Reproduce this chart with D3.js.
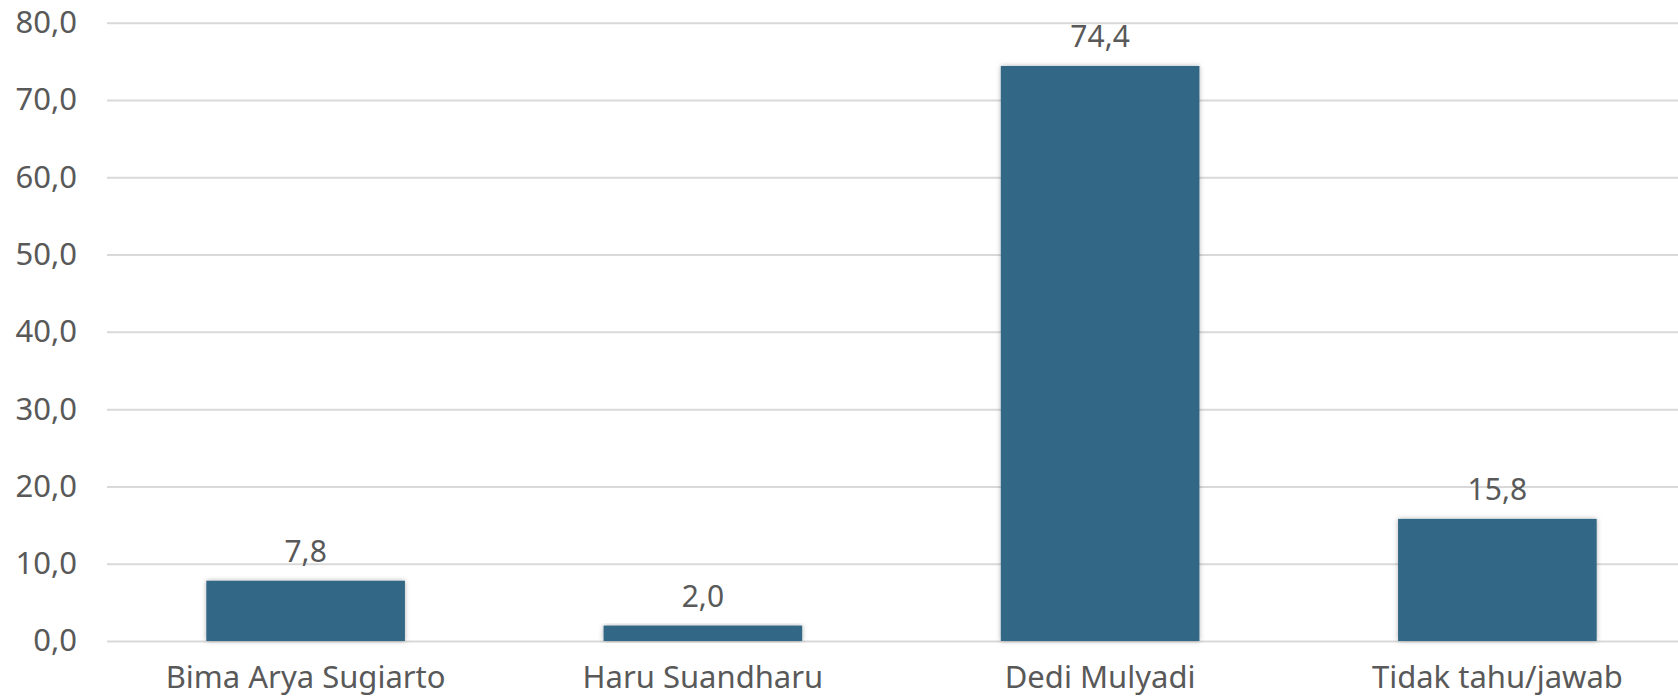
<!DOCTYPE html>
<html lang="id">
<head>
<meta charset="utf-8">
<script src="https://cdn.jsdelivr.net/npm/d3@7"></script>
<style>
    body { margin: 0; background: #fff; }
    svg text {
        font-family: "Century Gothic", "URW Gothic", "Noto Sans", sans-serif;
        fill: #595959;
    }
    .grid line { stroke: #d9d9d9; stroke-width: 2px; }
    .grid path { display: none; }
</style>
</head>
<body>
<script>
// data
const candidates = ["Bima Arya Sugiarto", "Haru Suandharu", "Dedi Mulyadi", "Tidak tahu/jawab"];
const percent = [7.8, 2.0, 74.4, 15.8];
const yTicks = [0, 10, 20, 30, 40, 50, 60, 70, 80];

const w = 1678, h = 700;
const plotLeft = 107, plotRight = 1696, plotTop = 22.7, plotBottom = 641;

const svg = d3.select("body").append("svg")
    .attr("width", w)
    .attr("height", h);

// comma decimal like the original
const fmt = d3.formatLocale({decimal: ",", thousands: ".", grouping: [3], currency: ["", ""]}).format(".1f");

const x = d3.scaleBand()
    .domain(candidates)
    .range([plotLeft, plotRight])
    .paddingInner(0.5)
    .paddingOuter(0.25);

const y = d3.scaleLinear()
    .domain([0, 80])
    .range([plotBottom, plotTop]);

// soft outer shadow on the bars
const defs = svg.append("defs");
const glow = defs.append("filter")
    .attr("id", "glow")
    .attr("x", "-10%").attr("y", "-10%")
    .attr("width", "120%").attr("height", "120%");
glow.append("feDropShadow")
    .attr("dx", 0).attr("dy", 0)
    .attr("stdDeviation", 2.5)
    .attr("flood-color", "#000")
    .attr("flood-opacity", 0.3);

// gridlines + y labels
const yAxis = d3.axisLeft(y)
    .tickValues(yTicks)
    .tickSize(-(w - plotLeft))
    .tickPadding(30)
    .tickFormat(fmt);

svg.append("g")
    .attr("class", "grid")
    .attr("transform", "translate(" + plotLeft + ",0)")
    .call(yAxis)
    .selectAll("text")
    .attr("font-size", "31px");

const data = candidates.map((c, i) => ({name: c, value: percent[i]}));

svg.selectAll("rect.bar")
    .data(data)
    .enter()
    .append("rect")
    .attr("class", "bar")
    .attr("x", d => x(d.name))
    .attr("y", d => y(d.value))
    .attr("width", x.bandwidth())
    .attr("height", d => y(0) - y(d.value))
    .attr("fill", "#336886")
    .attr("filter", "url(#glow)");

// value labels
svg.selectAll("text.val")
    .data(data)
    .enter()
    .append("text")
    .attr("class", "val")
    .attr("x", d => x(d.name) + x.bandwidth() / 2)
    .attr("y", d => y(d.value) - 19)
    .attr("text-anchor", "middle")
    .attr("font-size", "30px")
    .text(d => fmt(d.value));

// category labels
const xAxis = d3.axisBottom(x).tickSize(0).tickPadding(0);
const gx = svg.append("g")
    .attr("transform", "translate(0," + plotBottom + ")")
    .call(xAxis);
gx.select(".domain").remove();
gx.selectAll("text")
    .attr("font-size", "31px")
    .attr("dy", null)
    .attr("y", 47);
</script>
</body>
</html>
